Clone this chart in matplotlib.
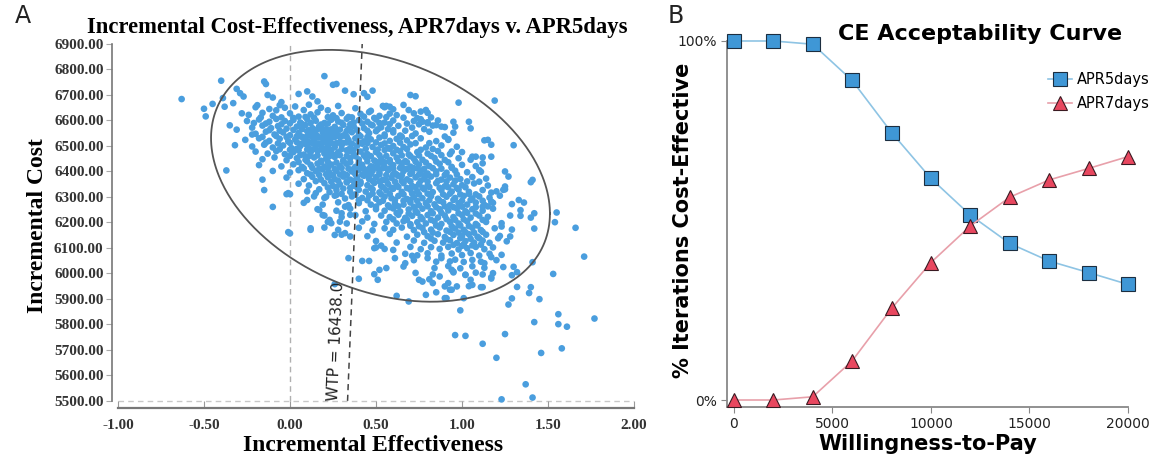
import matplotlib
matplotlib.use("Agg")
import matplotlib.pyplot as plt
import numpy as np

# ---- panel A data: (incremental effectiveness, incremental cost) ----
outer_points = [
    (-0.63, 6684), (-0.50, 6646), (-0.49, 6616), (-0.45, 6665), (-0.40, 6756), (-0.39, 6688),
    (-0.38, 6654), (-0.37, 6404), (-0.35, 6581), (-0.32, 6503), (-0.31, 6724), (-0.29, 6707),
    (-0.27, 6694), (-0.31, 6564), (-0.28, 6628), (-0.33, 6668), (-0.22, 6545), (-0.21, 6590),
    (-0.19, 6660), (-0.17, 6612), (-0.15, 6753), (-0.14, 6743), (-0.16, 6368), (-0.10, 6261),
    (-0.02, 6311), (0.00, 6311), (0.00, 6157), (-0.13, 6700), (-0.10, 6690), (-0.08, 6640),
    (-0.05, 6672), (-0.03, 6650), (0.05, 6704), (0.10, 6714), (0.13, 6694), (0.16, 6675),
    (0.20, 6774), (0.25, 6740), (0.27, 6743), (0.32, 6717), (0.37, 6703), (0.43, 6707),
    (0.45, 6693), (0.48, 6717), (0.70, 6700), (0.73, 6695), (1.19, 6678), (0.98, 6670),
    (1.04, 6595), (1.05, 6569), (0.95, 6595), (0.96, 6576), (1.15, 6524), (1.08, 6458),
    (0.79, 6641), (0.76, 6635), (0.72, 6628), (0.69, 6641), (0.66, 6661), (0.58, 6654),
    (0.54, 6657), (0.56, 6657), (0.85, 6582), (0.88, 6576), (0.90, 6537), (0.92, 6524),
    (0.81, 6511), (0.74, 6609), (0.77, 6595), (0.80, 6589),
]

right_points = [
    (1.41, 6367), (1.55, 6239), (1.54, 6201), (1.66, 6179), (1.42, 6176), (1.42, 6236),
    (1.40, 6219), (1.71, 6066), (1.41, 6044), (1.53, 5998), (1.32, 6005), (1.29, 5993),
    (1.32, 5947), (1.40, 5946), (1.39, 5923), (1.45, 5899), (1.29, 5902), (1.27, 5878),
    (1.01, 5903), (0.99, 5855), (1.56, 5840), (1.56, 5801), (1.61, 5791), (1.77, 5823),
    (1.42, 5809), (0.96, 5758), (1.02, 5755), (1.12, 5724), (1.25, 5762), (1.46, 5688),
    (1.58, 5706), (1.20, 5669), (1.37, 5565), (1.23, 5506), (1.41, 5513),
    (1.27, 6380), (1.33, 6288), (1.36, 6278), (1.28, 6227), (1.34, 6226), (1.28, 6145),
    (1.23, 6184), (1.24, 6328), (1.25, 6341), (1.17, 6317), (1.17, 6458), (1.12, 6432),
    (1.06, 6458), (0.94, 6478), (1.11, 6399), (1.10, 6360), (1.17, 6282), (1.12, 6262),
    (1.21, 6138), (1.23, 6073), (1.24, 6025), (1.17, 6064), (1.13, 6040), (1.17, 5985),
    (1.11, 5946), (1.06, 5955), (1.02, 5994), (0.97, 5949), (0.93, 5936), (0.91, 5903),
    (0.92, 5962), (0.95, 6007),
]

lower_points = [
    (-0.01, 6315), (-0.01, 6162), (0.12, 6171), (0.20, 6180), (0.24, 6197), (0.26, 6151),
    (0.32, 6158), (0.35, 6145), (0.34, 6060), (0.42, 6049), (0.46, 6049), (0.40, 5979),
    (0.49, 5997), (0.52, 6014), (0.56, 6021), (0.51, 5975), (0.26, 5958), (0.62, 5912),
    (0.69, 5890), (0.79, 5916), (0.90, 5903), (0.49, 6099), (0.53, 6109), (0.60, 6092),
    (0.61, 6060), (0.67, 6040), (0.71, 6069), (0.75, 5975), (0.77, 5968), (0.83, 5962),
    (0.87, 5988), (0.90, 5949), (0.94, 5936), (0.80, 6060), (0.88, 6060), (0.93, 6047),
    (0.94, 6014), (0.10, 6288), (0.17, 6249), (0.19, 6229), (0.23, 6210), (0.29, 6203),
    (0.30, 6236), (0.32, 6262), (0.35, 6230), (0.40, 6288), (0.15, 6315), (0.21, 6301),
    (0.27, 6308),
]

core_points = [
    (-0.20, 6652), (-0.12, 6645), (-0.06, 6660), (0.03, 6655), (0.08, 6641), (0.11, 6662),
    (0.18, 6650), (0.22, 6640), (0.28, 6657), (0.38, 6648), (0.47, 6638), (0.55, 6652),
    (0.60, 6644),
    (-0.24, 6622), (-0.16, 6630), (-0.10, 6618), (0.00, 6628), (0.05, 6615), (0.12, 6624),
    (0.16, 6632), (0.25, 6620), (0.30, 6629), (0.34, 6614), (0.41, 6626), (0.46, 6633),
    (0.52, 6618), (0.58, 6627), (0.62, 6621), (0.80, 6630), (0.82, 6612),
    (-0.25, 6598), (-0.18, 6604), (-0.12, 6595), (-0.08, 6606), (-0.03, 6598), (0.02, 6602),
    (0.06, 6592), (0.10, 6605), (0.15, 6599), (0.20, 6590), (0.24, 6603), (0.28, 6596),
    (0.33, 6607), (0.37, 6592), (0.40, 6601), (0.45, 6595), (0.50, 6604), (0.55, 6592),
    (0.60, 6600), (0.72, 6598), (0.76, 6605), (0.80, 6593), (0.86, 6600),
    (-0.22, 6572), (-0.16, 6580), (-0.11, 6570), (-0.07, 6578), (-0.02, 6568), (0.04, 6576),
    (0.09, 6582), (0.13, 6570), (0.17, 6578), (0.21, 6566), (0.26, 6575), (0.31, 6583),
    (0.34, 6568), (0.37, 6577), (0.43, 6570), (0.48, 6581), (0.53, 6573), (0.57, 6566),
    (0.63, 6579), (0.71, 6572), (0.78, 6566), (0.83, 6580), (0.90, 6574),
    (-0.20, 6548), (-0.14, 6556), (-0.09, 6545), (-0.04, 6553), (0.00, 6542), (0.05, 6551),
    (0.10, 6558), (0.12, 6540), (0.14, 6548), (0.19, 6555), (0.22, 6543), (0.25, 6552),
    (0.27, 6560), (0.32, 6546), (0.36, 6554), (0.40, 6544), (0.46, 6550), (0.50, 6558),
    (0.55, 6545), (0.60, 6553), (0.64, 6541), (0.73, 6549), (0.81, 6556), (0.95, 6552),
    (-0.26, 6524), (-0.18, 6530), (-0.12, 6520), (-0.06, 6528), (-0.01, 6518), (0.03, 6526),
    (0.08, 6532), (0.11, 6515), (0.14, 6524), (0.17, 6533), (0.20, 6519), (0.23, 6527),
    (0.26, 6535), (0.29, 6516), (0.34, 6524), (0.38, 6530), (0.43, 6518), (0.47, 6526),
    (0.52, 6533), (0.58, 6520), (0.62, 6528), (0.68, 6522), (0.76, 6530), (0.85, 6519),
    (0.92, 6527), (1.13, 6522),
    (-0.22, 6498), (-0.15, 6505), (-0.10, 6494), (-0.04, 6502), (0.01, 6491), (0.06, 6500),
    (0.09, 6508), (0.11, 6492), (0.15, 6499), (0.18, 6507), (0.20, 6490), (0.22, 6500),
    (0.26, 6495), (0.30, 6503), (0.35, 6492), (0.39, 6501), (0.42, 6509), (0.48, 6496),
    (0.53, 6504), (0.57, 6492), (0.60, 6500), (0.66, 6496), (0.70, 6506), (0.79, 6494),
    (0.88, 6502), (0.97, 6497), (1.17, 6505), (1.30, 6503),
    (-0.20, 6478), (-0.13, 6470), (-0.08, 6480), (-0.03, 6468), (0.02, 6476), (0.05, 6483),
    (0.08, 6466), (0.12, 6475), (0.16, 6482), (0.20, 6470), (0.23, 6478), (0.25, 6466),
    (0.28, 6475), (0.33, 6483), (0.37, 6470), (0.41, 6478), (0.45, 6468), (0.50, 6476),
    (0.55, 6484), (0.60, 6471), (0.64, 6479), (0.69, 6467), (0.74, 6476), (0.80, 6470),
    (0.86, 6480), (0.93, 6468), (1.00, 6476),
    (-0.16, 6448), (-0.09, 6455), (-0.02, 6444), (0.04, 6452), (0.09, 6446), (0.14, 6455),
    (0.18, 6442), (0.21, 6450), (0.26, 6457), (0.31, 6444), (0.35, 6452), (0.40, 6447),
    (0.44, 6456), (0.49, 6443), (0.53, 6451), (0.58, 6445), (0.62, 6454), (0.67, 6441),
    (0.72, 6450), (0.77, 6446), (0.84, 6453), (0.90, 6445), (0.98, 6452), (1.05, 6446),
    (1.12, 6455),
    (-0.18, 6425), (-0.05, 6420), (0.02, 6428), (0.07, 6418), (0.12, 6426), (0.16, 6431),
    (0.20, 6419), (0.24, 6427), (0.29, 6421), (0.33, 6430), (0.38, 6418), (0.42, 6426),
    (0.47, 6420), (0.51, 6429), (0.55, 6417), (0.60, 6425), (0.65, 6431), (0.70, 6419),
    (0.75, 6427), (0.81, 6421), (0.87, 6430), (0.94, 6418), (1.00, 6426), (1.08, 6421),
    (-0.10, 6402), (0.00, 6396), (0.05, 6405), (0.10, 6393), (0.15, 6401), (0.19, 6408),
    (0.23, 6395), (0.27, 6403), (0.31, 6392), (0.36, 6400), (0.40, 6407), (0.44, 6394),
    (0.48, 6402), (0.52, 6396), (0.57, 6405), (0.61, 6393), (0.66, 6401), (0.71, 6396),
    (0.76, 6404), (0.80, 6392), (0.85, 6400), (0.91, 6395), (0.96, 6403), (1.03, 6397),
    (1.10, 6405), (1.25, 6400),
    (-0.02, 6376), (0.08, 6370), (0.13, 6379), (0.18, 6368), (0.22, 6377), (0.26, 6370),
    (0.31, 6380), (0.35, 6368), (0.39, 6376), (0.43, 6383), (0.46, 6370), (0.50, 6378),
    (0.54, 6367), (0.59, 6375), (0.63, 6382), (0.68, 6369), (0.73, 6377), (0.78, 6371),
    (0.82, 6380), (0.88, 6368), (0.93, 6376), (0.99, 6370), (1.06, 6378), (1.14, 6372),
    (0.05, 6352), (0.11, 6345), (0.20, 6354), (0.25, 6343), (0.29, 6350), (0.33, 6357),
    (0.37, 6344), (0.41, 6352), (0.45, 6346), (0.49, 6355), (0.53, 6343), (0.57, 6351),
    (0.62, 6346), (0.66, 6354), (0.71, 6343), (0.75, 6351), (0.80, 6345), (0.85, 6354),
    (0.90, 6342), (0.95, 6350), (1.00, 6346), (1.07, 6353), (1.15, 6345), (1.40, 6358),
    (-0.15, 6327), (0.10, 6322), (0.17, 6330), (0.23, 6319), (0.27, 6327), (0.31, 6333),
    (0.35, 6320), (0.40, 6328), (0.44, 6321), (0.48, 6330), (0.52, 6318), (0.56, 6326),
    (0.60, 6332), (0.65, 6320), (0.70, 6328), (0.74, 6322), (0.78, 6330), (0.83, 6319),
    (0.88, 6327), (0.94, 6321), (0.98, 6329), (1.04, 6320), (1.12, 6327), (1.20, 6322),
    (1.25, 6330),
    (0.14, 6302), (0.20, 6296), (0.26, 6305), (0.32, 6294), (0.36, 6302), (0.42, 6296),
    (0.46, 6305), (0.50, 6293), (0.55, 6301), (0.59, 6295), (0.63, 6304), (0.68, 6292),
    (0.72, 6300), (0.77, 6295), (0.82, 6303), (0.86, 6293), (0.91, 6301), (0.96, 6296),
    (1.01, 6304), (1.06, 6294), (1.10, 6302), (1.16, 6297), (1.22, 6305),
    (0.08, 6277), (0.19, 6270), (0.28, 6279), (0.34, 6268), (0.40, 6276), (0.47, 6270),
    (0.52, 6279), (0.57, 6267), (0.61, 6275), (0.66, 6270), (0.70, 6278), (0.75, 6268),
    (0.79, 6276), (0.84, 6271), (0.89, 6279), (0.93, 6268), (0.98, 6276), (1.03, 6270),
    (1.08, 6278), (1.13, 6269), (1.18, 6277), (1.29, 6272),
    (0.16, 6252), (0.27, 6246), (0.35, 6254), (0.44, 6244), (0.50, 6252), (0.55, 6246),
    (0.60, 6255), (0.64, 6243), (0.69, 6251), (0.73, 6246), (0.77, 6254), (0.82, 6244),
    (0.87, 6252), (0.92, 6247), (0.97, 6255), (1.02, 6244), (1.06, 6252), (1.12, 6246),
    (1.18, 6254), (1.34, 6248),
    (0.20, 6227), (0.30, 6221), (0.38, 6229), (0.45, 6219), (0.53, 6227), (0.58, 6221),
    (0.63, 6230), (0.67, 6218), (0.71, 6226), (0.76, 6221), (0.80, 6229), (0.86, 6219),
    (0.90, 6227), (0.95, 6221), (1.00, 6229), (1.05, 6219), (1.10, 6227), (1.15, 6222),
    (0.22, 6202), (0.33, 6196), (0.42, 6204), (0.49, 6194), (0.56, 6202), (0.62, 6196),
    (0.66, 6205), (0.70, 6193), (0.74, 6201), (0.79, 6196), (0.84, 6204), (0.88, 6194),
    (0.93, 6202), (0.98, 6196), (1.03, 6204), (1.08, 6194), (1.14, 6202), (1.23, 6197),
    (0.12, 6177), (0.28, 6171), (0.40, 6179), (0.48, 6169), (0.55, 6177), (0.60, 6171),
    (0.65, 6180), (0.72, 6170), (0.77, 6178), (0.82, 6172), (0.87, 6180), (0.91, 6168),
    (0.96, 6176), (1.01, 6171), (1.06, 6179), (1.11, 6170), (1.19, 6177), (1.29, 6172),
    (0.30, 6152), (0.45, 6146), (0.58, 6155), (0.68, 6144), (0.74, 6152), (0.80, 6146),
    (0.86, 6154), (0.90, 6143), (0.95, 6151), (1.00, 6146), (1.04, 6154), (1.09, 6144),
    (1.14, 6152), (1.22, 6147),
    (0.50, 6127), (0.62, 6121), (0.72, 6129), (0.78, 6120), (0.84, 6128), (0.89, 6121),
    (0.93, 6130), (0.97, 6119), (1.02, 6127), (1.07, 6121), (1.12, 6129), (1.16, 6120),
    (1.26, 6126),
    (0.50, 6102), (0.55, 6096), (0.70, 6104), (0.76, 6095), (0.82, 6103), (0.87, 6096),
    (0.92, 6104), (0.98, 6094), (1.00, 6108), (1.03, 6099), (1.08, 6104), (1.13, 6095),
    (1.18, 6102),
    (0.67, 6077), (0.74, 6071), (0.80, 6079), (0.88, 6070), (0.94, 6078), (1.00, 6072),
    (1.05, 6080), (1.10, 6070), (1.16, 6077),
    (0.72, 6052), (0.85, 6046), (0.96, 6054), (1.01, 6045), (1.06, 6053), (1.11, 6046),
    (1.20, 6052), (0.66, 6027), (0.84, 6021), (0.92, 6029), (0.99, 6020), (1.06, 6028),
    (1.13, 6022), (1.30, 6026), (0.73, 6002), (0.83, 5996), (0.95, 6004), (1.02, 5995),
    (1.08, 6003), (1.12, 5996), (1.18, 6001), (0.81, 5977), (1.05, 5975), (1.17, 5980),
    (0.85, 5926), (1.04, 5950), (1.12, 5946),
]

dense_points = [
    (0.13, 6512), (0.16, 6538), (0.19, 6514), (0.21, 6540), (0.24, 6512), (0.18, 6486),
    (0.14, 6488), (0.28, 6540), (0.31, 6512), (0.12, 6560), (0.16, 6566), (0.24, 6565),
    (0.09, 6518), (0.06, 6538), (0.35, 6480), (0.38, 6460), (0.40, 6435), (0.43, 6410),
    (0.45, 6440), (0.48, 6418), (0.37, 6410), (0.42, 6388), (0.47, 6390), (0.51, 6412),
    (0.55, 6436), (0.58, 6412), (0.62, 6388), (0.66, 6412), (0.70, 6390), (0.74, 6412),
    (0.78, 6385),
    (-0.05, 6612), (0.02, 6610), (0.09, 6614), (0.14, 6611), (0.22, 6613), (0.27, 6609),
    (0.36, 6612), (0.43, 6615), (0.49, 6610), (0.56, 6613), (0.66, 6611),
    (-0.14, 6588), (-0.05, 6585), (0.00, 6589), (0.07, 6586), (0.12, 6590), (0.18, 6584),
    (0.22, 6588), (0.30, 6591), (0.35, 6585), (0.42, 6588), (0.47, 6584), (0.52, 6590),
    (0.58, 6586), (0.68, 6588), (0.75, 6585),
    (-0.12, 6562), (-0.06, 6560), (0.02, 6563), (0.07, 6566), (0.11, 6562), (0.15, 6560),
    (0.19, 6566), (0.23, 6561), (0.29, 6564), (0.33, 6559), (0.39, 6563), (0.45, 6560),
    (0.51, 6565), (0.60, 6562), (0.67, 6560),
    (-0.16, 6536), (-0.08, 6539), (-0.02, 6535), (0.04, 6538), (0.07, 6536), (0.10, 6539),
    (0.13, 6535), (0.16, 6538), (0.19, 6536), (0.22, 6539), (0.25, 6535), (0.30, 6538),
    (0.33, 6536), (0.41, 6538), (0.45, 6535), (0.55, 6538), (0.65, 6536), (0.71, 6539),
    (-0.14, 6513), (-0.07, 6510), (0.00, 6512), (0.04, 6515), (0.07, 6510), (0.10, 6513),
    (0.16, 6510), (0.22, 6514), (0.27, 6511), (0.33, 6514), (0.36, 6509), (0.40, 6513),
    (0.45, 6511), (0.50, 6514), (0.55, 6510), (0.64, 6513), (0.73, 6511),
    (-0.06, 6487), (0.00, 6485), (0.04, 6489), (0.10, 6486), (0.22, 6489), (0.24, 6484),
    (0.30, 6488), (0.37, 6485), (0.44, 6489), (0.51, 6486), (0.58, 6489), (0.62, 6485),
    (0.68, 6488), (0.76, 6485), (0.83, 6488),
    (0.00, 6461), (0.06, 6464), (0.11, 6460), (0.16, 6463), (0.23, 6460), (0.29, 6464),
    (0.33, 6461), (0.43, 6463), (0.47, 6460), (0.52, 6464), (0.56, 6461), (0.65, 6463),
    (0.70, 6460), (0.75, 6463), (0.82, 6461), (0.88, 6464),
    (0.05, 6437), (0.10, 6439), (0.18, 6436), (0.22, 6438), (0.27, 6435), (0.31, 6439),
    (0.35, 6436), (0.50, 6438), (0.53, 6435), (0.58, 6437), (0.63, 6440), (0.68, 6436),
    (0.73, 6438), (0.79, 6435), (0.85, 6439), (0.92, 6436),
    (0.08, 6412), (0.13, 6414), (0.17, 6411), (0.22, 6413), (0.26, 6410), (0.30, 6414),
    (0.34, 6411), (0.40, 6413), (0.46, 6410), (0.54, 6413), (0.60, 6411), (0.64, 6414),
    (0.68, 6410), (0.72, 6413), (0.78, 6410), (0.83, 6413), (0.88, 6411), (0.94, 6414),
    (0.12, 6388), (0.17, 6386), (0.21, 6389), (0.25, 6385), (0.29, 6388), (0.33, 6386),
    (0.38, 6389), (0.45, 6385), (0.52, 6388), (0.56, 6386), (0.60, 6389), (0.65, 6385),
    (0.75, 6388), (0.80, 6385), (0.85, 6389), (0.90, 6386), (0.97, 6388),
    (0.15, 6362), (0.24, 6360), (0.28, 6364), (0.33, 6361), (0.37, 6363), (0.41, 6360),
    (0.48, 6363), (0.52, 6361), (0.56, 6364), (0.61, 6360), (0.65, 6363), (0.70, 6361),
    (0.76, 6364), (0.80, 6360), (0.86, 6363), (0.91, 6361), (0.96, 6364), (1.03, 6361),
    (0.22, 6337), (0.27, 6339), (0.35, 6336), (0.39, 6338), (0.47, 6335), (0.54, 6338),
    (0.59, 6336), (0.63, 6339), (0.68, 6335), (0.73, 6338), (0.77, 6336), (0.81, 6339),
    (0.87, 6336), (0.92, 6338), (0.97, 6335), (1.02, 6338),
    (0.30, 6312), (0.38, 6310), (0.48, 6313), (0.53, 6310), (0.58, 6312), (0.66, 6310),
    (0.71, 6313), (0.75, 6310), (0.80, 6313), (0.89, 6310), (0.93, 6313), (0.99, 6310),
    (1.04, 6312), (1.08, 6310),
    (0.45, 6287), (0.54, 6285), (0.61, 6288), (0.66, 6285), (0.70, 6288), (0.74, 6284),
    (0.81, 6287), (0.87, 6285), (0.95, 6288), (1.00, 6285), (1.05, 6288), (1.12, 6285),
    (0.50, 6262), (0.58, 6260), (0.63, 6263), (0.72, 6261), (0.80, 6263), (0.85, 6260),
    (0.90, 6263), (0.95, 6260), (1.00, 6262), (1.08, 6260), (1.15, 6263),
    (0.62, 6237), (0.69, 6235), (0.74, 6238), (0.83, 6236), (0.88, 6238), (0.98, 6236),
    (1.03, 6238), (1.08, 6235),
    (0.60, 6212), (0.68, 6210), (0.77, 6213), (0.82, 6210), (0.91, 6213), (0.96, 6210),
    (1.01, 6212), (1.12, 6210),
    (0.70, 6187), (0.75, 6185), (0.85, 6188), (0.94, 6185), (0.99, 6188), (1.04, 6186),
    (1.09, 6188),
    (0.78, 6162), (0.83, 6160), (0.93, 6163), (0.98, 6160), (1.02, 6162), (1.07, 6160),
    (1.12, 6163),
    (0.82, 6137), (0.91, 6135), (0.99, 6138), (1.05, 6136), (1.10, 6138),
    (0.95, 6112), (1.01, 6114), (1.06, 6110), (1.11, 6113),
]

ellipse_center = (0.526, 6383)
ellipse_half_x = 0.985
ellipse_half_y = 494
ellipse_cos_phase = -0.30
wtp_ratio = 16438.0

# ---- panel B data ----
wtp = [0, 2000, 4000, 6000, 8000, 10000, 12000, 14000, 16000, 18000, 20000]
apr5 = [100, 100, 99.1, 89.0, 74.5, 61.7, 51.5, 43.6, 38.7, 35.5, 32.2]
apr7 = [0, 0, 0.9, 10.9, 25.5, 38.3, 48.5, 56.5, 61.3, 64.5, 67.8]

pts = np.array(outer_points + right_points + lower_points + core_points + dense_points)
eff, cost = pts[:, 0], pts[:, 1]

fig = plt.figure(figsize=(11.53, 4.57), dpi=100)
serif = "Liberation Serif"

# ---------------- panel A ----------------
ax = fig.add_axes([0.0971, 0.1072, 0.4528, 0.7965])
ax.set_xlim(-1.035, 2.0)
ax.set_ylim(5472, 6900)

ax.axvline(0, ymin=(5500 - 5472) / (6900 - 5472), color="#b0b0b0", lw=1.0, ls=(0, (4, 3)), zorder=1)
ax.axhline(5500, xmin=0.035 / 3.035, color="#c8c8c8", lw=1.0, ls=(0, (4, 3)), zorder=1)

ax.scatter(eff, cost, s=23, color="#4a9ede", edgecolors="none", zorder=3)

t = np.linspace(0, 2 * np.pi, 400)
phi = np.arccos(ellipse_cos_phase)
ex = ellipse_center[0] + ellipse_half_x * np.cos(t)
ey = ellipse_center[1] + ellipse_half_y * np.cos(t + phi)
ax.plot(ex, ey, color="#555555", lw=1.3, zorder=4)

wy = np.array([5500, 6900])
ax.plot(wy / wtp_ratio, wy, color="#444444", lw=1.1, ls=(0, (4, 3)), zorder=4)
ax.text(0.268, 5735, "WTP = %.1f" % wtp_ratio, rotation=87.4, ha="center", va="center",
        fontsize=11, family="DejaVu Sans", color="#222222", zorder=5)

for s in ["top", "right"]:
    ax.spines[s].set_visible(False)
ax.spines["left"].set_bounds(5500, 6900)
ax.spines["left"].set_color("#777777")
ax.spines["left"].set_linewidth(1.2)
ax.spines["bottom"].set_bounds(-1.0, 2.0)
ax.spines["bottom"].set_color("#777777")
ax.spines["bottom"].set_linewidth(1.6)

ax.set_yticks(np.arange(5500, 6901, 100))
ax.set_yticklabels(["%.2f" % v for v in np.arange(5500, 6901, 100)])
ax.set_xticks(np.arange(-1.0, 2.01, 0.5))
ax.set_xticklabels(["%.2f" % v for v in np.arange(-1.0, 2.01, 0.5)])
ax.tick_params(axis="y", direction="out", length=4, color="#aaaaaa", pad=2)
ax.tick_params(axis="x", direction="in", length=5, color="#999999", pad=8)
for lab in ax.get_xticklabels() + ax.get_yticklabels():
    lab.set_family(serif)
    lab.set_fontweight("bold")
    lab.set_fontsize(11)
    lab.set_color("#333333")

ax.set_xlabel("Incremental Effectiveness", family=serif, fontweight="bold", fontsize=17, labelpad=2)
ax.set_ylabel("Incremental Cost", family=serif, fontweight="bold", fontsize=17, labelpad=4)
ax.set_title("Incremental Cost-Effectiveness, APR7days v. APR5days", family=serif,
             fontweight="bold", fontsize=16.3, pad=8, x=0.47)

# ---------------- panel B ----------------
bx = fig.add_axes([0.6305, 0.1094, 0.3478, 0.8009])
bx.set_xlim(-355, 20000)
bx.set_ylim(-1.95, 100)

bx.plot(wtp, apr5, color="#8ec4e4", lw=1.2, marker="s", markersize=9.5,
        markerfacecolor="#3f97d6", markeredgecolor="#1c2e40", markeredgewidth=0.8,
        label="APR5days", clip_on=False, zorder=3)
bx.plot(wtp, apr7, color="#e8a0aa", lw=1.2, marker="^", markersize=10,
        markerfacecolor="#e8475f", markeredgecolor="#3a1a22", markeredgewidth=0.8,
        label="APR7days", clip_on=False, zorder=3)

for s in ["top", "right"]:
    bx.spines[s].set_visible(False)
for s in ["left", "bottom"]:
    bx.spines[s].set_color("#888888")
    bx.spines[s].set_linewidth(1.3)
bx.spines["bottom"].set_bounds(-355, 20000)

bx.set_xticks([0, 5000, 10000, 15000, 20000])
bx.set_yticks([0, 100])
bx.set_yticklabels(["0%", "100%"])
bx.tick_params(axis="both", length=4, color="#888888", labelsize=10, labelcolor="#222222")

bx.set_xlabel("Willingness-to-Pay", fontweight="bold", fontsize=15, labelpad=2)
bx.set_ylabel("% Iterations Cost-Effective", fontweight="bold", fontsize=15)
bx.yaxis.set_label_coords(-0.085, 0.51)
bx.text(0.63, 1.02, "CE Acceptability Curve", transform=bx.transAxes, ha="center", va="center",
        fontweight="bold", fontsize=16)
bx.legend(loc="upper right", bbox_to_anchor=(1.07, 0.93), frameon=False, fontsize=10.5,
          handlelength=1.6, handletextpad=0.4, labelspacing=0.6, borderaxespad=0)

fig.text(0.013, 0.965, "A", fontsize=17, va="center", ha="left", color="#222222")
fig.text(0.579, 0.965, "B", fontsize=17, va="center", ha="left", color="#222222")

fig.savefig("out.png", dpi=100)
